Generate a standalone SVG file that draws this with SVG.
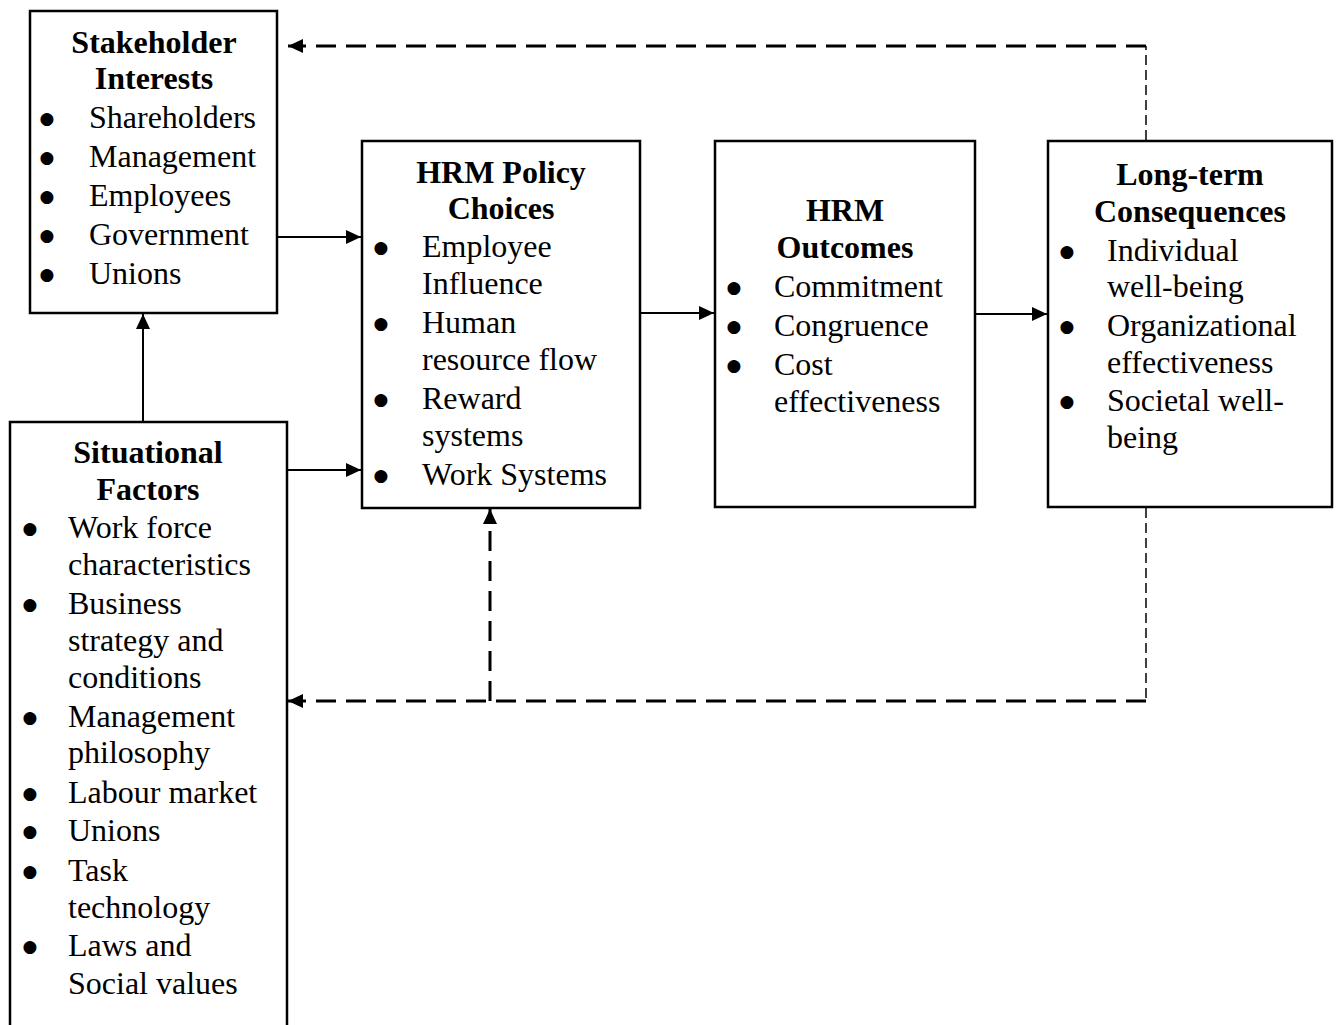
<svg xmlns="http://www.w3.org/2000/svg" width="1340" height="1025" viewBox="0 0 1340 1025">
  <style>
    .box { fill: #fff; stroke: #000; stroke-width: 2.5; }
    text { font-family: "Liberation Serif", "Times New Roman", serif; font-size: 32px; fill: #000; }
    .h { font-weight: bold; text-anchor: middle; }
    .b { text-anchor: middle; font-family: "DejaVu Sans", sans-serif; font-size: 17px; }
    .solid { stroke: #000; stroke-width: 2; fill: none; }
    .dash { stroke: #000; stroke-width: 3; fill: none; stroke-dasharray: 20 10; }
    .thin { stroke: #000; stroke-width: 1.5; fill: none; stroke-dasharray: 10 5; }
  </style>
  <defs>
    <marker id="arrow" viewBox="0 0 15 14" refX="15" refY="7" markerWidth="15" markerHeight="14" markerUnits="userSpaceOnUse" orient="auto">
      <path d="M0,0 L15,7 L0,14 Z" fill="#000"/>
    </marker>
  </defs>
  <rect width="1340" height="1025" fill="#fff"/>

  <g id="connectors">
    <line class="solid" x1="278" y1="237" x2="361" y2="237" marker-end="url(#arrow)"/>
    <line class="solid" x1="288" y1="470" x2="361" y2="470" marker-end="url(#arrow)"/>
    <line class="solid" x1="641" y1="313" x2="714" y2="313" marker-end="url(#arrow)"/>
    <line class="solid" x1="976" y1="314" x2="1047" y2="314" marker-end="url(#arrow)"/>
    <line class="solid" x1="143" y1="422" x2="143" y2="314" marker-end="url(#arrow)"/>
    <!-- feedback from long-term consequences to stakeholder interests -->
    <line class="thin" x1="1146" y1="140" x2="1146" y2="46"/>
    <line class="dash" x1="1146" y1="46" x2="288" y2="46" marker-end="url(#arrow)"/>
    <!-- feedback from long-term consequences to situational factors -->
    <line class="thin" x1="1146" y1="508" x2="1146" y2="701"/>
    <line class="dash" x1="1146" y1="701" x2="288" y2="701" marker-end="url(#arrow)"/>
    <line class="dash" x1="490" y1="701" x2="490" y2="509" marker-end="url(#arrow)"/>
  </g>

  <g id="stakeholder-interests">
    <rect class="box" x="30" y="11" width="247" height="302"/>
    <text class="h" x="154" y="53">Stakeholder</text>
    <text class="h" x="154" y="89">Interests</text>
    <text class="b" x="47" y="124">●</text><text x="89" y="128">Shareholders</text>
    <text class="b" x="47" y="163">●</text><text x="89" y="167">Management</text>
    <text class="b" x="47" y="202">●</text><text x="89" y="206">Employees</text>
    <text class="b" x="47" y="241">●</text><text x="89" y="245">Government</text>
    <text class="b" x="47" y="280">●</text><text x="89" y="284">Unions</text>
  </g>

  <g id="hrm-policy-choices">
    <rect class="box" x="362" y="141" width="278" height="367"/>
    <text class="h" x="501" y="183">HRM Policy</text>
    <text class="h" x="501" y="219">Choices</text>
    <text class="b" x="381" y="253">●</text><text x="422" y="257">Employee</text>
    <text x="422" y="294">Influence</text>
    <text class="b" x="381" y="329">●</text><text x="422" y="333">Human</text>
    <text x="422" y="370">resource flow</text>
    <text class="b" x="381" y="405">●</text><text x="422" y="409">Reward</text>
    <text x="422" y="446">systems</text>
    <text class="b" x="381" y="481">●</text><text x="422" y="485">Work Systems</text>
  </g>

  <g id="hrm-outcomes">
    <rect class="box" x="715" y="141" width="260" height="366"/>
    <text class="h" x="845" y="221">HRM</text>
    <text class="h" x="845" y="258">Outcomes</text>
    <text class="b" x="734" y="293">●</text><text x="774" y="297">Commitment</text>
    <text class="b" x="734" y="332">●</text><text x="774" y="336">Congruence</text>
    <text class="b" x="734" y="371">●</text><text x="774" y="375">Cost</text>
    <text x="774" y="412">effectiveness</text>
  </g>

  <g id="long-term-consequences">
    <rect class="box" x="1048" y="141" width="284" height="366"/>
    <text class="h" x="1190" y="185">Long-term</text>
    <text class="h" x="1190" y="222">Consequences</text>
    <text class="b" x="1067" y="257">●</text><text x="1107" y="261">Individual</text>
    <text x="1107" y="297">well-being</text>
    <text class="b" x="1067" y="332">●</text><text x="1107" y="336">Organizational</text>
    <text x="1107" y="373">effectiveness</text>
    <text class="b" x="1067" y="407">●</text><text x="1107" y="411">Societal well-</text>
    <text x="1107" y="448">being</text>
  </g>

  <g id="situational-factors">
    <rect class="box" x="10" y="422" width="277" height="640"/>
    <text class="h" x="148" y="463">Situational</text>
    <text class="h" x="148" y="500">Factors</text>
    <text class="b" x="30" y="534">●</text><text x="68" y="538">Work force</text>
    <text x="68" y="575">characteristics</text>
    <text class="b" x="30" y="610">●</text><text x="68" y="614">Business</text>
    <text x="68" y="651">strategy and</text>
    <text x="68" y="688">conditions</text>
    <text class="b" x="30" y="723">●</text><text x="68" y="727">Management</text>
    <text x="68" y="763">philosophy</text>
    <text class="b" x="30" y="799">●</text><text x="68" y="803">Labour market</text>
    <text class="b" x="30" y="837">●</text><text x="68" y="841">Unions</text>
    <text class="b" x="30" y="877">●</text><text x="68" y="881">Task</text>
    <text x="68" y="918">technology</text>
    <text class="b" x="30" y="952">●</text><text x="68" y="956">Laws and</text>
    <text x="68" y="994">Social values</text>
  </g>
</svg>
